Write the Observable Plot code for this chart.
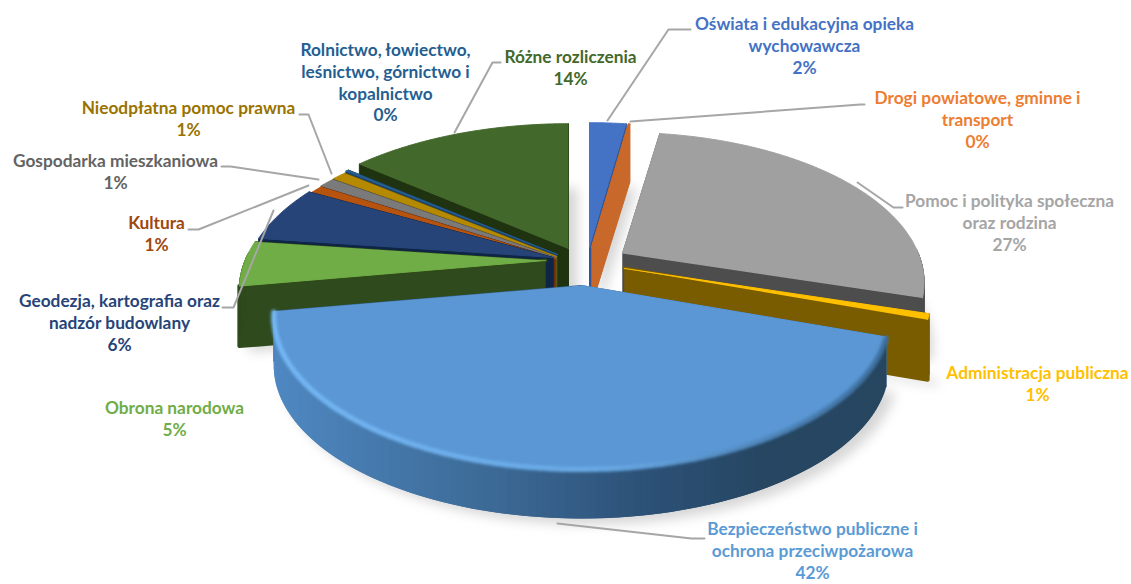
<!DOCTYPE html>
<html lang="pl">
<head>
<meta charset="utf-8">
<style>html,body{margin:0;padding:0;background:#fff;overflow:hidden}svg{display:block}</style>
<script src="https://cdn.jsdelivr.net/npm/d3@7"></script>
<script src="https://cdn.jsdelivr.net/npm/@observablehq/plot@0.6"></script>
</head>
<body>
<div id="chart"></div>
<script>
// DATA
const categories = [
  "Oświata i edukacyjna opieka\nwychowawcza",
  "Drogi powiatowe, gminne i\ntransport",
  "Pomoc i polityka społeczna\noraz rodzina",
  "Administracja publiczna",
  "Bezpieczeństwo publiczne i\nochrona przeciwpożarowa",
  "Obrona narodowa",
  "Geodezja, kartografia oraz\nnadzór budowlany",
  "Kultura",
  "Gospodarka mieszkaniowa",
  "Nieodpłatna pomoc prawna",
  "Rolnictwo, łowiectwo,\nleśnictwo, górnictwo i\nkopalnictwo",
  "Różne rozliczenia"
];
const values = [2.3, 0.1, 27.3, 0.6, 42.0, 4.8, 5.9, 0.9, 1.0, 0.9, 0.2, 14.0];
const percentLabels = ["2%","0%","27%","1%","42%","5%","6%","1%","1%","1%","0%","14%"];

// STYLE
const topColors  = ["#4472c4","#c8682a","#a0a0a0","#ffc000","#5b97d5","#70ad47","#264478","#b5530f","#7a7a7a","#b58a00","#255e91","#43682b"];
const wallColors = ["#2f5597","#c8682a","#4d4d4d","#7a5c00","#3a6691","#2f4a1c","#0f2545","#6e300a","#555555","#7a5c00","#1a4266","#1f3310"];
const textColors = ["#4472c4","#ed7d31","#a5a5a5","#ffc000","#5b9bd5","#70ad47","#264478","#9e480e","#636363","#997300","#255e91","#43682b"];
const bigWallStops = ["#4f88c2","#4477a9","#3a6691","#2d5278","#264662","#274660"];

// LAYOUT (exploded pie in perspective)
const apexX = [589,591,622,624,581,545,553,555,555,556,557,568];
const apexY = [247,247,253,268,285,260,257,258,257,256,254,248];
const depths = [58,58,58,60,50,60,58,58,58,58,58,58];
const radiusScale = [1,1,0.97,0.985,0.99,0.985,1,1,1,1,1,1];
const cutStroke = [1,1,1,4,1,4,1,1,1,1,1,1];
const paintOrder = [11,10,9,8,7,6,5,0,1,2,3,4];
const radiusX = 305, radiusY = 149, tilt = 0.194;
const labelX = [804,977,1009,1037,812,174,119,156,115,188,385,570];
const labelY = [44,118,221,382,549,417,321,232,170.5,117,81,66];
const leaders = [
  [[607,120],[668,29],[690,29]],
  [[630,121],[860,104],[864,104]],
  [[857,182],[893,207],[902,207]],
  [[557,523],[691,538],[704,538]],
  [[273,210],[233,307],[222,307]],
  [[188,229],[198,229],[308,185]],
  [[221,166],[230,166],[318,179]],
  [[299,114],[308,114],[331,173]],
  [[500,62],[492,62],[454,132]]
];

// GEOMETRY derived from the values
const arcs = d3.pie().sort(null).value(d => d)(values);
const project = (i, a) => {
  const u = Math.sin(a), v = Math.cos(a), s = 1 / (1 + tilt * v);
  return [apexX[i] + radiusX * radiusScale[i] * u * s, apexY[i] - radiusY * radiusScale[i] * v * s];
};
const arcAngles = (i, step = 0.008) => {
  const {startAngle: a0, endAngle: a1} = arcs[i];
  const n = Math.max(1, Math.ceil((a1 - a0) / step));
  return d3.range(n + 1).map(k => a0 + (a1 - a0) * k / n);
};

const polys = [], shadows = [], rimGlow = [];
let id = 0;
const addPoly = (points, fill, sw = 1) => {
  const key = id++;
  points.forEach(([x, y]) => polys.push({key, x, y, fill, sw}));
};
const bigRamp = d3.piecewise(d3.interpolateRgb, bigWallStops);
const bigIndex = 4;

for (const i of paintOrder) {
  const {startAngle: a0, endAngle: a1} = arcs[i];
  const d = depths[i];
  const ax = apexX[i], ay = apexY[i];
  const outline = [[ax, ay], ...arcAngles(i).map(a => project(i, a))];
  // soft shadow of the slice's underside
  const sKey = "s" + i;
  outline.forEach(([x, y]) => shadows.push({key: sKey, x: x + 9, y: y + d + 6}));
  // cut faces, the one nearer the viewer last
  const cuts = [a0, a1].map(a => project(i, a)).sort((p, q) => p[1] - q[1]);
  cuts.forEach(([x, y], n) => {
    addPoly([[ax, ay], [x, y], [x, y + d], [ax, ay + d]], wallColors[i], n === 1 ? cutStroke[i] : 1);
  });
  // outer wall, only where it faces the viewer; strips overlap so no seams show
  const angles = arcAngles(i, 0.02);
  for (let k = 0; k < angles.length - 1; k++) {
    if (Math.cos(angles[k]) > 0.02 && Math.cos(angles[k + 1]) > 0.02) continue;
    const p = project(i, angles[k]), q = project(i, angles[Math.min(k + 2, angles.length - 1)]);
    const t = (p[0] - project(bigIndex, arcs[bigIndex].endAngle)[0]) / 615;
    const fill = i === bigIndex ? bigRamp(Math.max(0, Math.min(1, t))) : wallColors[i];
    addPoly([p, q, [q[0], q[1] + d], [p[0], p[1] + d]], fill, i === bigIndex ? 0 : 1);
  }
  // top face
  addPoly(outline, topColors[i]);
}

// highlight along the rim of the largest slice
const glowRamp = d3.scaleLinear().domain([0, 0.55, 1]).range(["#74b8f5", "#6aaae6", "#3d6f9e"]);
{
  const angles = arcAngles(bigIndex, 0.03);
  const left = project(bigIndex, arcs[bigIndex].endAngle)[0];
  for (let k = 0; k < angles.length - 1; k++) {
    const p = project(bigIndex, angles[k]), q = project(bigIndex, angles[k + 1]);
    const glow = glowRamp((p[0] - left) / 615);
    rimGlow.push({key: k, x: p[0], y: p[1] + 1, glow}, {key: k, x: q[0], y: q[1] + 1, glow});
  }
}

const leaderRows = leaders.flatMap((line, key) => line.map(([x, y]) => ({key, x, y})));
const labels = categories.map((c, i) => ({
  text: c + "\n" + percentLabels[i], x: labelX[i], y: labelY[i], color: textColors[i]
}));

const chart = Plot.plot({
  width: 1131, height: 584,
  marginTop: 0, marginRight: 0, marginBottom: 0, marginLeft: 0,
  x: {domain: [0, 1131], range: [0, 1131], axis: null},
  y: {domain: [0, 584], range: [0, 584], axis: null},
  color: {type: "identity"},
  marks: [
    Plot.line(shadows, {x: "x", y: "y", z: "key", fill: "#000", fillOpacity: 0.16, stroke: "none", curve: "linear", imageFilter: "blur(6px)"}),
    Plot.line(polys, {x: "x", y: "y", z: "key", fill: "fill", stroke: "fill", strokeWidth: "sw", strokeLinejoin: "round", curve: "linear"}),
    Plot.line(rimGlow, {x: "x", y: "y", z: "key", stroke: "glow", strokeWidth: 5, curve: "linear", imageFilter: "blur(1.8px)"}),
    Plot.line(leaderRows, {x: "x", y: "y", z: "key", stroke: "#a6a6a6", strokeWidth: 2, curve: "linear"}),
    Plot.text(labels, {
      x: "x", y: "y", text: "text", fill: "color",
      lineAnchor: "middle", lineHeight: 1.27, textAnchor: "middle",
      fontFamily: "Lato", fontWeight: 700, fontSize: 17.3
    })
  ]
});
document.getElementById("chart").append(chart);
</script>
</body>
</html>
